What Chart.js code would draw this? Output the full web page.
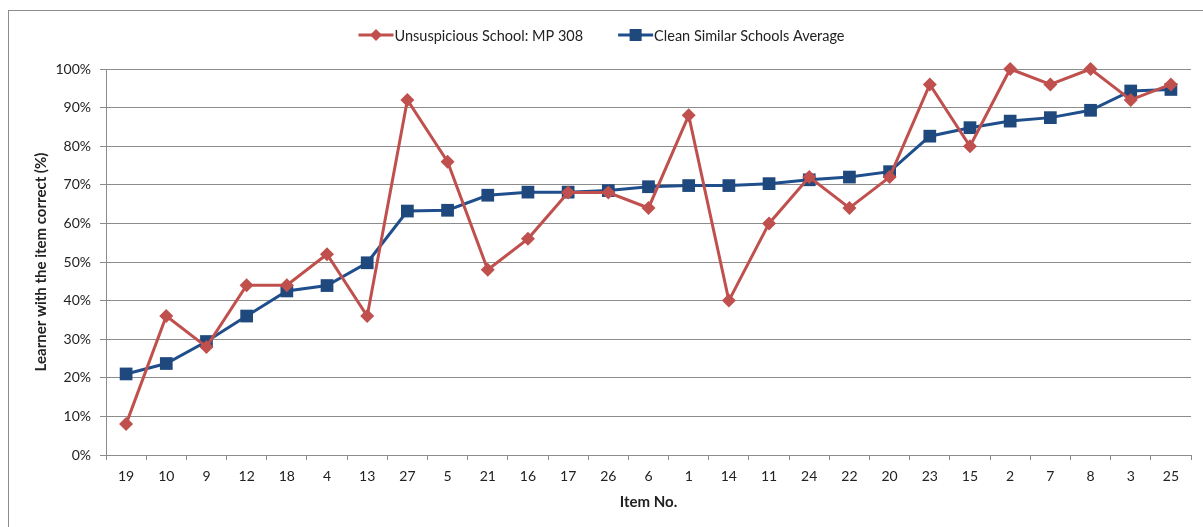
<!DOCTYPE html>
<html>
<head>
<meta charset="utf-8">
<script src="https://cdn.jsdelivr.net/npm/chart.js@4"></script>
<style>
  html, body { margin: 0; padding: 0; background: #fff; }
  #wrap { position: relative; width: 1203px; height: 527px; overflow: hidden; }
  #frame { position: absolute; left: 8px; top: 10px; width: 1400px; height: 800px; border-left: 1px solid #8c8c8c; border-top: 1px solid #8c8c8c; }
  canvas { position: absolute; left: 0; top: 0; }
</style>
</head>
<body>
<div id="wrap">
  <div id="frame"></div>
  <canvas id="c" width="1203" height="527"></canvas>
</div>
<script>
const categories = ['19','10','9','12','18','4','13','27','5','21','16','17','26','6','1','14','11','24','22','20','23','15','2','7','8','3','25'];
const schoolValues = [8,36,28,44,44,52,36,92,76,48,56,68,68,64,88,40,60,72,64,72,96,80,100,96,100,92,96];
const averageValues = [21,23.7,29.4,36,42.5,43.9,49.8,63.2,63.4,67.3,68.1,68.1,68.5,69.5,69.8,69.8,70.3,71.3,72,73.4,82.6,84.8,86.5,87.4,89.3,94.3,94.7];
const seriesNames = ['Unsuspicious School: MP 308', 'Clean Similar Schools Average'];
const yTicks = [0,10,20,30,40,50,60,70,80,90,100];

const RED = '#C0504D';
const BLUE = '#1F4E8C';
const BLUE_MK = '#1F497D';
const FONT = 'Lato, "Liberation Sans", sans-serif';

// Excel-style legend: short line with the marker on it, then the text
const excelLegend = {
  id: 'excelLegend',
  afterDraw(chart) {
    const ctx = chart.ctx;
    const iconW = 35, gapText = 1, gapItem = 35, cy = 35;
    ctx.save();
    ctx.font = '14.5px ' + FONT;
    const ds = chart.data.datasets;
    const widths = ds.map(d => ctx.measureText(d.label).width);
    let total = 0;
    widths.forEach((w, i) => { total += iconW + gapText + w + (i < ds.length - 1 ? gapItem : 0); });
    let x = chart.width / 2 - total / 2;
    ds.forEach((d, i) => {
      ctx.strokeStyle = d.borderColor; ctx.lineWidth = 3;
      ctx.beginPath(); ctx.moveTo(x, cy); ctx.lineTo(x + iconW, cy); ctx.stroke();
      ctx.fillStyle = d.pointBackgroundColor;
      const mx = x + iconW / 2;
      if (d.pointStyle === 'rectRot') {
        ctx.beginPath(); ctx.moveTo(mx, cy - 6); ctx.lineTo(mx + 6, cy); ctx.lineTo(mx, cy + 6); ctx.lineTo(mx - 6, cy); ctx.closePath(); ctx.fill();
      } else {
        ctx.fillRect(mx - 6, cy - 6, 12, 12);
      }
      ctx.fillStyle = '#222';
      ctx.textBaseline = 'middle'; ctx.textAlign = 'left';
      ctx.fillText(d.label, x + iconW + gapText, cy + 1);
      x += iconW + gapText + widths[i] + gapItem;
    });
    ctx.restore();
  }
};

new Chart(document.getElementById('c'), {
  type: 'line',
  data: {
    labels: categories,
    datasets: [
      { label: seriesNames[0], data: schoolValues, borderColor: RED, backgroundColor: RED,
        borderWidth: 3, pointStyle: 'rectRot', pointRadius: 7, pointHoverRadius: 7,
        pointBackgroundColor: RED, pointBorderColor: RED, pointBorderWidth: 0, tension: 0, clip: false },
      { label: seriesNames[1], data: averageValues, borderColor: BLUE, backgroundColor: BLUE_MK,
        borderWidth: 3, pointStyle: 'rect', pointRadius: 9, pointHoverRadius: 9,
        pointBackgroundColor: BLUE_MK, pointBorderColor: BLUE_MK, pointBorderWidth: 0, tension: 0, clip: false }
    ]
  },
  options: {
    responsive: false,
    animation: false,
    events: [],
    layout: { padding: { left: 14, right: 12, top: 69, bottom: 10 } },
    plugins: {
      tooltip: { enabled: false },
      legend: { display: false }
    },
    scales: {
      x: {
        offset: true,
        afterFit(s) { s.height = 62; },
        grid: { display: true, offset: true, drawOnChartArea: false, drawTicks: true, tickLength: 5, color: '#8c8c8c' },
        border: { display: true, color: '#8c8c8c', width: 1 },
        ticks: { color: '#222', font: { family: FONT, size: 14 }, padding: 8, maxRotation: 0, autoSkip: false },
        title: { display: true, text: 'Item No.', color: '#222', font: { family: FONT, size: 15, weight: 'bold' }, padding: { top: 4, bottom: 6 } }
      },
      y: {
        min: 0, max: 100,
        afterFit(s) { s.width = 92; },
        afterBuildTicks(s) { s.ticks = yTicks.map(v => ({ value: v })); },
        grid: { color: '#8c8c8c', drawTicks: true, tickLength: 6, lineWidth: 1 },
        border: { display: true, color: '#8c8c8c', width: 1 },
        ticks: { color: '#222', font: { family: FONT, size: 14 }, padding: 9, callback: v => v + '%' },
        title: { display: true, text: 'Learner with the item correct (%)', color: '#222', font: { family: FONT, size: 15, weight: 'bold' }, padding: { top: 18, bottom: 0 } }
      }
    }
  },
  plugins: [excelLegend]
});
</script>
</body>
</html>
